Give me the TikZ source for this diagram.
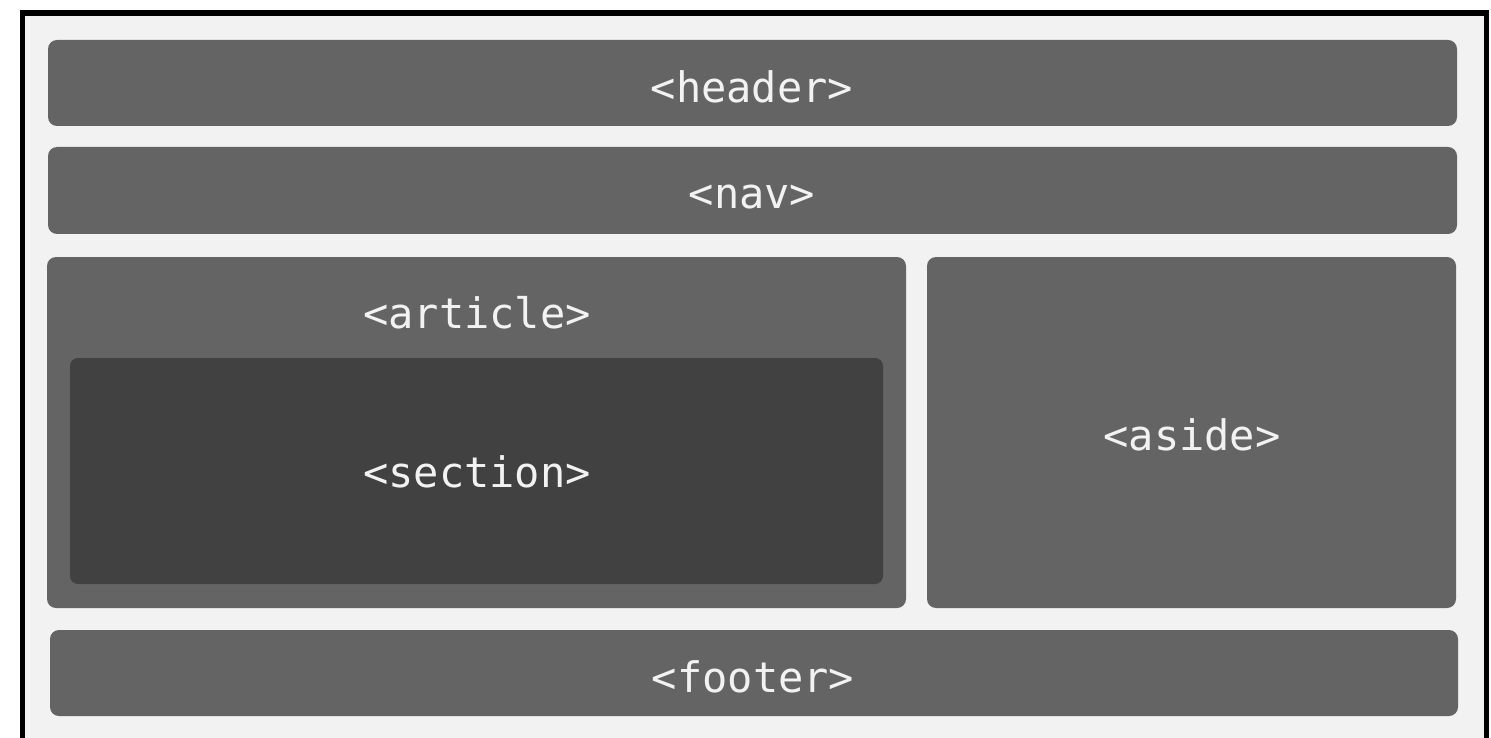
\documentclass[tikz,border=0pt]{standalone}
\usepackage{fontspec}
\setmonofont{DejaVu Sans Mono}
\definecolor{bgray}{HTML}{F2F2F2}
\definecolor{boxgray}{HTML}{646464}
\definecolor{secgray}{HTML}{414141}
\definecolor{txt}{HTML}{F2F2F2}
\begin{document}
\begin{tikzpicture}[x=1pt,y=-1pt,
  region/.style={fill=boxgray,rounded corners=9pt},
  inner/.style={fill=secgray,rounded corners=8pt},
  lbl/.style={text=txt,font=\fontsize{42}{48}\selectfont\ttfamily,inner sep=0pt}]
\useasboundingbox (0,0) rectangle (1491,738);
\fill[white] (0,0) rectangle (1491,738);
\fill[bgray] (22,13) rectangle (1487,738);
\draw[line width=5.5pt] (22.5,738) -- (22.5,13) -- (1486.5,13) -- (1486.5,738);
% regions
\path[region] (48,40) rectangle (1457,126);
\node[lbl] (header) at (752,87) {<header>};
\path[region] (48,147) rectangle (1457,234);
\node[lbl] (nav) at (752,197) {<nav>};
\path[region] (47,257) rectangle (906,608);
\node[lbl] (article) at (477,313) {<article>};
\path[inner] (70,358) rectangle (883,584);
\node[lbl] (section) at (477,472) {<section>};
\path[region] (927,257) rectangle (1456,608);
\node[lbl] (aside) at (1192,435) {<aside>};
\path[region] (50,630) rectangle (1458,716);
\node[lbl] (footer) at (753,677) {<footer>};
\end{tikzpicture}
\end{document}
